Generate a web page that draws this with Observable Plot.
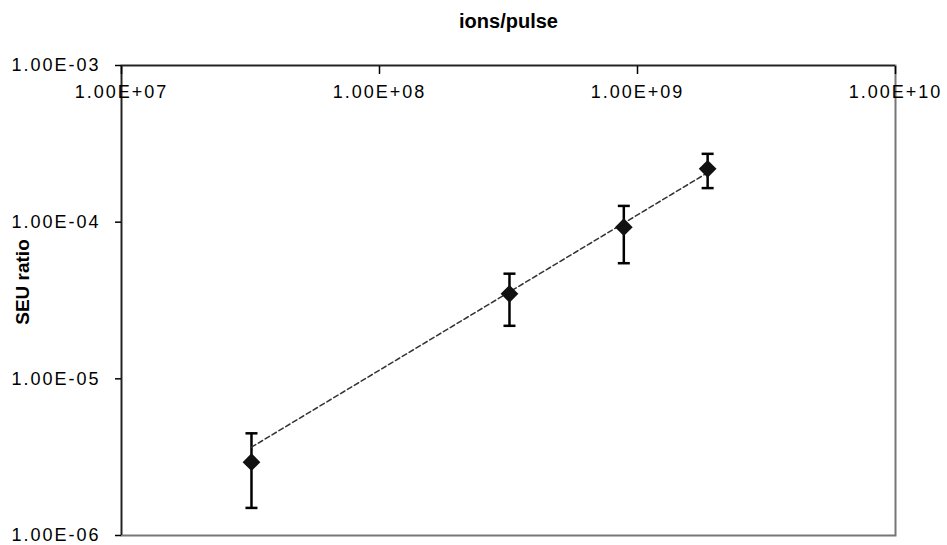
<!DOCTYPE html>
<html><head><meta charset="utf-8">
<script src="https://cdn.jsdelivr.net/npm/d3@7"></script>
<script src="https://cdn.jsdelivr.net/npm/@observablehq/plot@0.6"></script>
<style>
body{margin:0;background:#fff}
svg{display:block}
.seu [aria-label="x-axis tick label"] text,
.seu [aria-label="y-axis tick label"] text{letter-spacing:2px}
</style>
</head><body><div id="chart"></div>
<script>
const ionsPerPulse = [3.19e7, 3.19e8, 8.85e8, 1.87e9];
const seuRatio     = [2.94e-6, 3.49e-5, 9.29e-5, 2.19e-4];
const errLow       = [1.50e-6, 2.18e-5, 5.47e-5, 1.65e-4];
const errHigh      = [4.49e-6, 4.69e-5, 1.27e-4, 2.73e-4];
const trendX = [3.19e7, 1.87e9];
const trendY = [3.66e-6, 2.07e-4];
const xTicks = [1e7, 1e8, 1e9, 1e10];
const xTickLabels = ["1.00E+07", "1.00E+08", "1.00E+09", "1.00E+10"];
const yTicks = [1e-6, 1e-5, 1e-4, 1e-3];
const yTickLabels = ["1.00E-06", "1.00E-05", "1.00E-04", "1.00E-03"];
const xTitle = "ions/pulse";
const yTitle = "SEU ratio";

const points = ionsPerPulse.map((x, i) => ({x, y: seuRatio[i], lo: errLow[i], hi: errHigh[i]}));
const trend = trendX.map((x, i) => ({x, y: trendY[i]}));
const capSymbol = {draw(ctx) { ctx.moveTo(-6, 0); ctx.lineTo(6, 0); }};

const chart = Plot.plot({
  width: 947, height: 545,
  marginLeft: 121, marginRight: 52, marginTop: 65, marginBottom: 10,
  className: "seu",
  style: {fontFamily: "Arial, 'Liberation Sans', sans-serif", color: "#000", background: "#fff"},
  x: {type: "log", domain: [1e7, 1e10], axis: null},
  y: {type: "log", domain: [1e-6, 1e-3], axis: null},
  marks: [
    Plot.frame({stroke: "#777", strokeWidth: 2}),
    Plot.ruleX([1e7], {stroke: "#222", strokeWidth: 1.5}),
    Plot.ruleY([1e-3], {stroke: "#222", strokeWidth: 1.5}),
    Plot.axisX({anchor: "top", ticks: xTicks, tickFormat: d => xTickLabels[xTicks.indexOf(d)],
      tickSize: 8, dy: 8, tickPadding: -27, lineAnchor: "middle", fontSize: 18, label: null, strokeWidth: 1.5}),
    Plot.axisY({anchor: "left", ticks: yTicks, tickFormat: d => yTickLabels[yTicks.indexOf(d)],
      tickSize: 6, tickPadding: 15, fontSize: 18, label: null, strokeWidth: 1.5}),
    Plot.text([xTitle], {frameAnchor: "top", dy: -44, lineAnchor: "middle", textAnchor: "middle", fontWeight: "bold", fontSize: 20}),
    Plot.text([yTitle], {frameAnchor: "left", dx: -99, dy: -18.5, rotate: -90, textAnchor: "middle", lineAnchor: "middle", fontWeight: "bold", fontSize: 19}),
    Plot.ruleX(points, {x: "x", y1: "lo", y2: "hi", stroke: "#000", strokeWidth: 2.5}),
    Plot.dot(points, {x: "x", y: "lo", symbol: capSymbol, stroke: "#000", fill: "none", strokeWidth: 2.5}),
    Plot.dot(points, {x: "x", y: "hi", symbol: capSymbol, stroke: "#000", fill: "none", strokeWidth: 2.5}),
    Plot.line(trend, {x: "x", y: "y", stroke: "#333", strokeWidth: 1.5, strokeDasharray: "5,3"}),
    Plot.dot(points, {x: "x", y: "y", symbol: "diamond2", r: 8, fill: "#111", stroke: "none"})
  ]
});
document.getElementById("chart").appendChild(chart);
</script>
</body></html>
